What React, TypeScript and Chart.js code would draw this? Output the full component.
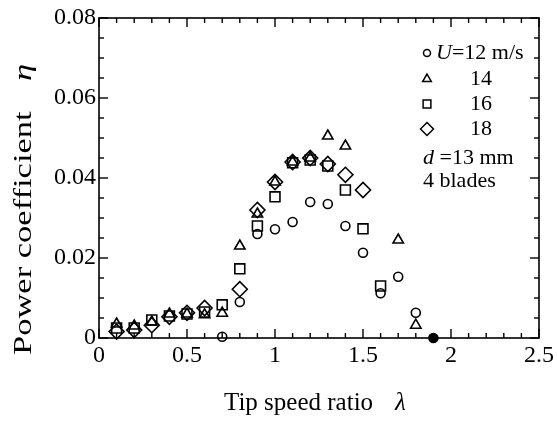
import React, { useEffect, useRef } from "react";
import { Chart, registerables } from "chart.js";
import { drawPoint } from "chart.js/helpers";

Chart.register(...registerables);

// ---- data (tip speed ratio λ, power coefficient η) ----
const u12X = [0.7, 0.8, 0.9, 1.0, 1.1, 1.2, 1.3, 1.4, 1.5, 1.6, 1.7, 1.8, 1.9];
const u12Y = [0.0003, 0.009, 0.026, 0.0272, 0.029, 0.034, 0.0335, 0.028, 0.0213, 0.0112, 0.0153, 0.0063, 0.0];

const u14X = [0.1, 0.2, 0.3, 0.4, 0.5, 0.6, 0.7, 0.8, 0.9, 1.0, 1.1, 1.2, 1.3, 1.4, 1.7, 1.8];
const u14Y = [0.0035, 0.003, 0.004, 0.006, 0.006, 0.0058, 0.0062, 0.023, 0.031, 0.039, 0.044, 0.045, 0.0505, 0.048, 0.0245, 0.0032];

const u16X = [0.1, 0.2, 0.3, 0.4, 0.5, 0.6, 0.7, 0.8, 0.9, 1.0, 1.1, 1.2, 1.3, 1.4, 1.5, 1.6];
const u16Y = [0.0025, 0.0025, 0.0045, 0.0055, 0.006, 0.0065, 0.0083, 0.0173, 0.028, 0.0353, 0.0438, 0.0445, 0.043, 0.037, 0.0273, 0.013];

const u18X = [0.1, 0.2, 0.3, 0.4, 0.5, 0.6, 0.8, 0.9, 1.0, 1.1, 1.2, 1.3, 1.4, 1.5];
const u18Y = [0.0016, 0.002, 0.0032, 0.0053, 0.0063, 0.0075, 0.0122, 0.032, 0.039, 0.044, 0.045, 0.0435, 0.0408, 0.037];

const xTickValues = [0, 0.5, 1, 1.5, 2, 2.5];
const xTickLabels = ["0", "0.5", "1", "1.5", "2", "2.5"];
const yTickValues = [0, 0.02, 0.04, 0.06, 0.08];
const yTickLabels = ["0", "0.02", "0.04", "0.06", "0.08"];

const legendLabels = ["=12 m/s", "14", "16", "18"];
const legendItalic = "U";
const noteLine1Italic = "d";
const noteLine1 = " =13 mm";
const noteLine2 = "4 blades";
const xTitle = "Tip speed ratio";
const xTitleSym = "λ";
const yTitle = "Power coefficient";
const yTitleSym = "η";

const FONT = "'Liberation Serif', 'DejaVu Serif', serif";

const pts = (xs: number[], ys: number[]) => xs.map((x, i) => ({ x, y: ys[i] }));

const decorPlugin = {
  id: "decor",
  afterDraw(chart: any) {
    const { ctx, chartArea: a, scales } = chart;
    const x = scales.x;
    const y = scales.y;
    ctx.save();
    ctx.strokeStyle = "#000";
    ctx.lineWidth = 1.6;
    ctx.strokeRect(a.left, a.top, a.right - a.left, a.bottom - a.top);
    const line = (x1: number, y1: number, x2: number, y2: number) => {
      ctx.beginPath();
      ctx.moveTo(x1, y1);
      ctx.lineTo(x2, y2);
      ctx.stroke();
    };
    ctx.lineWidth = 1.4;
    for (let i = 0; i <= 25; i++) {
      const px = x.getPixelForValue(i / 10);
      const len = i % 5 === 0 ? 9 : 5;
      line(px, a.bottom, px, a.bottom - len);
      line(px, a.top, px, a.top + len);
    }
    for (let i = 0; i <= 16; i++) {
      const py = y.getPixelForValue(i * 0.005);
      const len = i % 4 === 0 ? 9 : 5;
      line(a.left, py, a.left + len, py);
      line(a.right, py, a.right - len, py);
    }

    // legend
    const mk = (style: string, r: number, cx: number, cy: number) => {
      ctx.lineWidth = 1.5;
      ctx.strokeStyle = "#000";
      ctx.fillStyle = "rgba(0,0,0,0)";
      drawPoint(ctx, { pointStyle: style, radius: r, borderWidth: 1.5, rotation: 0 } as any, cx, cy);
    };
    const rows = [53, 79, 104, 129];
    const styles: [string, number][] = [["circle", 3.5], ["triangle", 5], ["rect", 5.5], ["rectRot", 6.5]];
    rows.forEach((ry, i) => mk(styles[i][0], styles[i][1], 427, ry));
    ctx.fillStyle = "#000";
    ctx.textBaseline = "middle";
    ctx.textAlign = "left";
    ctx.font = `italic 22px ${FONT}`;
    ctx.fillText(legendItalic, 436, rows[0]);
    const uw = ctx.measureText(legendItalic).width;
    ctx.font = `22px ${FONT}`;
    ctx.fillText(legendLabels[0], 436 + uw, rows[0]);
    for (let i = 1; i < 4; i++) ctx.fillText(legendLabels[i], 470, rows[i]);
    ctx.font = `italic 22px ${FONT}`;
    ctx.fillText(noteLine1Italic, 423, 158);
    const dw = ctx.measureText(noteLine1Italic).width;
    ctx.font = `22px ${FONT}`;
    ctx.fillText(noteLine1, 423 + dw, 158);
    ctx.fillText(noteLine2, 423, 181);

    // axis titles
    ctx.textBaseline = "alphabetic";
    ctx.font = `25px ${FONT}`;
    ctx.fillText(xTitle, 224, 410);
    const xtw = ctx.measureText(xTitle).width;
    ctx.font = `italic 25px ${FONT}`;
    ctx.fillText(xTitleSym, 224 + xtw + 22, 410);

    ctx.save();
    ctx.translate(31, 355);
    ctx.rotate(-Math.PI / 2);
    ctx.scale(1.38, 1);
    ctx.font = `25px ${FONT}`;
    ctx.fillText(yTitle, 0, 0);
    const ytw = ctx.measureText(yTitle).width;
    ctx.font = `italic 25px ${FONT}`;
    ctx.fillText(yTitleSym, ytw + 22, 0);
    ctx.restore();
    ctx.restore();
  },
};

export default function App() {
  const ref = useRef<HTMLCanvasElement>(null);
  useEffect(() => {
    document.body.style.margin = "0";
    const ds = (label: string, data: any[], style: string, r: number, extra: any = {}) => ({
      label,
      data,
      pointStyle: style,
      pointRadius: r,
      pointBorderColor: "#000",
      pointBackgroundColor: "rgba(0,0,0,0)",
      pointBorderWidth: 1.6,
      showLine: false,
      clip: false,
      ...extra,
    });
    const chart = new Chart(ref.current!, {
      type: "scatter",
      data: {
        datasets: [
          ds("U=12", pts(u12X, u12Y), "circle", 4.5, {
            pointBackgroundColor: u12X.map((v) => (v === 1.9 ? "#000" : "rgba(0,0,0,0)")),
          }),
          ds("14", pts(u14X, u14Y), "triangle", 6),
          ds("16", pts(u16X, u16Y), "rect", 7),
          ds("18", pts(u18X, u18Y), "rectRot", 7.5),
        ],
      },
      options: {
        animation: false,
        responsive: false,
        maintainAspectRatio: false,
        layout: { padding: { top: 18, right: 15, left: 0, bottom: 0 } },
        plugins: { legend: { display: false }, tooltip: { enabled: false }, title: { display: false } },
        scales: {
          x: {
            type: "linear",
            min: 0,
            max: 2.5,
            grid: { display: false, drawTicks: false },
            border: { display: false },
            afterBuildTicks: (s: any) => {
              s.ticks = xTickValues.map((v) => ({ value: v }));
            },
            afterFit: (s: any) => {
              s.height = 83;
            },
            ticks: {
              padding: 3,
              maxRotation: 0,
              autoSkip: false,
              color: "#000",
              font: { family: FONT, size: 24 },
              callback: (_v: any, i: number) => xTickLabels[i],
            },
          },
          y: {
            type: "linear",
            min: 0,
            max: 0.08,
            grid: { display: false, drawTicks: false },
            border: { display: false },
            afterBuildTicks: (s: any) => {
              s.ticks = yTickValues.map((v) => ({ value: v }));
            },
            afterFit: (s: any) => {
              s.width = 99;
            },
            ticks: {
              padding: 3,
              autoSkip: false,
              color: "#000",
              font: { family: FONT, size: 24 },
              callback: (_v: any, i: number) => yTickLabels[i],
            },
          },
        },
      },
      plugins: [decorPlugin],
    });
    return () => chart.destroy();
  }, []);
  return (
    <div style={{ width: 557, height: 421, background: "#fff" }}>
      <canvas ref={ref} width={557} height={421} style={{ display: "block" }} />
    </div>
  );
}
